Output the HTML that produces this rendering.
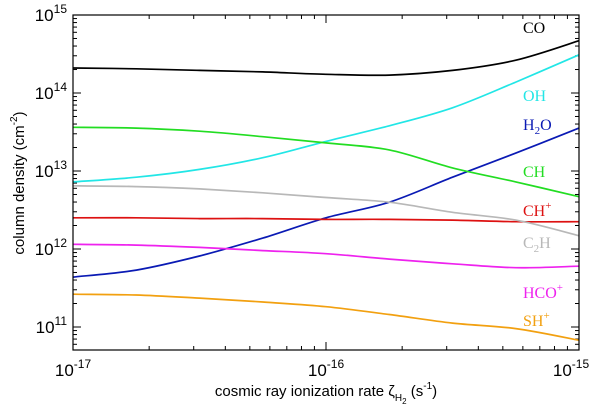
<!DOCTYPE html>
<html><head><meta charset="utf-8"><style>
body{margin:0;background:#fff}
svg{display:block}
.t{font-family:"Liberation Sans",sans-serif;font-size:15px;fill:#000}
.tk{font-family:"Liberation Sans",sans-serif;font-size:17px;fill:#000}
.s{font-family:"Liberation Serif",serif;font-size:16px}
</style></head><body>
<svg id="c" width="600" height="407" xmlns="http://www.w3.org/2000/svg"></svg>
<script>
const xLog=[-17,-16.75,-16.5,-16.25,-16,-15.75,-15.5,-15.25,-15];
const coVals=[14.32,14.31,14.29,14.27,14.24,14.23,14.29,14.42,14.67];
const ohVals=[12.86,12.92,13.02,13.17,13.38,13.58,13.81,14.14,14.49];
const h2oVals=[11.64,11.73,11.91,12.14,12.40,12.60,12.92,13.23,13.55];
const chVals=[13.56,13.55,13.51,13.44,13.36,13.27,13.04,12.86,12.67];
const c2hVals=[12.81,12.80,12.77,12.72,12.66,12.60,12.47,12.37,12.17];
const chpVals=[12.40,12.40,12.39,12.39,12.38,12.38,12.37,12.35,12.35];
const hcopVals=[12.06,12.05,12.02,11.98,11.94,11.87,11.81,11.76,11.78];
const shpVals=[11.42,11.41,11.37,11.32,11.26,11.16,11.05,10.98,10.83];
const yTicks=[11,12,13,14,15];
const xTicks=[-17,-16,-15];

const L=73,R=579,T=15,B=350;
const yMin=10.705,yMax=15;
const X=v=>L+(v+17)/2*(R-L);
const Y=v=>B-(v-yMin)/(yMax-yMin)*(B-T);
const svg=document.getElementById('c');
const NS='http://www.w3.org/2000/svg';
function mk(tag,attrs,parent){const e=document.createElementNS(NS,tag);for(const k in attrs)e.setAttribute(k,attrs[k]);(parent||svg).appendChild(e);return e;}
function smooth(pts){let d='M'+pts[0][0].toFixed(1)+' '+pts[0][1].toFixed(1);
 for(let i=0;i<pts.length-1;i++){const p0=pts[i-1]||pts[i],p1=pts[i],p2=pts[i+1],p3=pts[i+2]||p2;
  const c1=[p1[0]+(p2[0]-p0[0])/6,p1[1]+(p2[1]-p0[1])/6],c2=[p2[0]-(p3[0]-p1[0])/6,p2[1]-(p3[1]-p1[1])/6];
  d+=' C'+c1.map(n=>n.toFixed(1)).join(' ')+' '+c2.map(n=>n.toFixed(1)).join(' ')+' '+p2[0].toFixed(1)+' '+p2[1].toFixed(1);}
 return d;}

for(let d=10;d<=15;d++){for(let m=1;m<10;m++){const v=d+Math.log10(m);if(v<yMin||v>yMax)continue;const len=m===1?8:4;
 const t1=mk('line',{x1:L,x2:L+len,y1:Y(v),y2:Y(v),stroke:'#000','stroke-width':1});
 
 
 const t2=mk('line',{x1:R,x2:R-len,y1:Y(v),y2:Y(v),stroke:'#000','stroke-width':1});
 
 }}
for(let d=-17;d<=-15;d++){for(let m=1;m<10;m++){const v=d+Math.log10(m);if(v>-15)continue;const len=m===1?8:4;
 const t1=mk('line',{x1:X(v),x2:X(v),y1:B,y2:B-len,stroke:'#000','stroke-width':1});
 
 
 const t2=mk('line',{x1:X(v),x2:X(v),y1:T,y2:T+len,stroke:'#000','stroke-width':1});
 
 }}

yTicks.forEach(v=>{const t=mk('text',{x:67,y:Y(v)+6,'text-anchor':'end',class:'tk'});
 
 
 t.innerHTML='10<tspan dy="-8" font-size="12">'+v+'</tspan>';});
xTicks.forEach(v=>{const t=mk('text',{x:X(v)-(v===-15?8:0),y:376,'text-anchor':'middle',class:'tk'});
 
 
 t.innerHTML='10<tspan dy="-8" font-size="12">'+v+'</tspan>';});

const series=[
 ['CO',coVals,'#000000','CO',33],
 ['OH',ohVals,'#22e6e6','OH',101],
 ['H2O',h2oVals,'#0a1ab4','H<tspan dy="4" font-size="11">2</tspan><tspan dy="-4">O</tspan>',130],
 ['CH',chVals,'#22dd22','CH',177],
 ['CH+',chpVals,'#dd1111','CH<tspan dy="-7" font-size="11">+</tspan>',216],
 ['C2H',c2hVals,'#b8b8b8','C<tspan dy="4" font-size="11">2</tspan><tspan dy="-4">H</tspan>',248],
 ['HCO+',hcopVals,'#ee22ee','HCO<tspan dy="-7" font-size="11">+</tspan>',298],
 ['SH+',shpVals,'#f2a010','SH<tspan dy="-7" font-size="11">+</tspan>',326]
];
series.forEach(s=>{
 const pts=s[1].map((v,i)=>[X(xLog[i]),Y(v)]);
 const p=mk('path',{d:smooth(pts),fill:'none',stroke:s[2],'stroke-width':1.7});
 
 
 const t=mk('text',{x:523,y:s[4],class:'s',fill:s[2]});
 
 
 t.innerHTML=s[3];
});

const f=mk('rect',{x:L,y:T,width:R-L,height:B-T,fill:'none',stroke:'#000','stroke-width':1.2});



const xt=mk('text',{x:326,y:396,'text-anchor':'middle',class:'t'});


xt.innerHTML='cosmic ray ionization rate ζ<tspan dy="5" font-size="10">H</tspan><tspan dy="3" font-size="8">2</tspan><tspan dy="-8"> (s</tspan><tspan dy="-7" font-size="10">-1</tspan><tspan dy="7">)</tspan>';
const yt=mk('text',{x:0,y:0,'text-anchor':'middle',class:'t',transform:'translate(24,183) rotate(-90)'});


yt.innerHTML='column density (cm<tspan dy="-7" font-size="10">-2</tspan><tspan dy="7">)</tspan>';
</script>
</body></html>
